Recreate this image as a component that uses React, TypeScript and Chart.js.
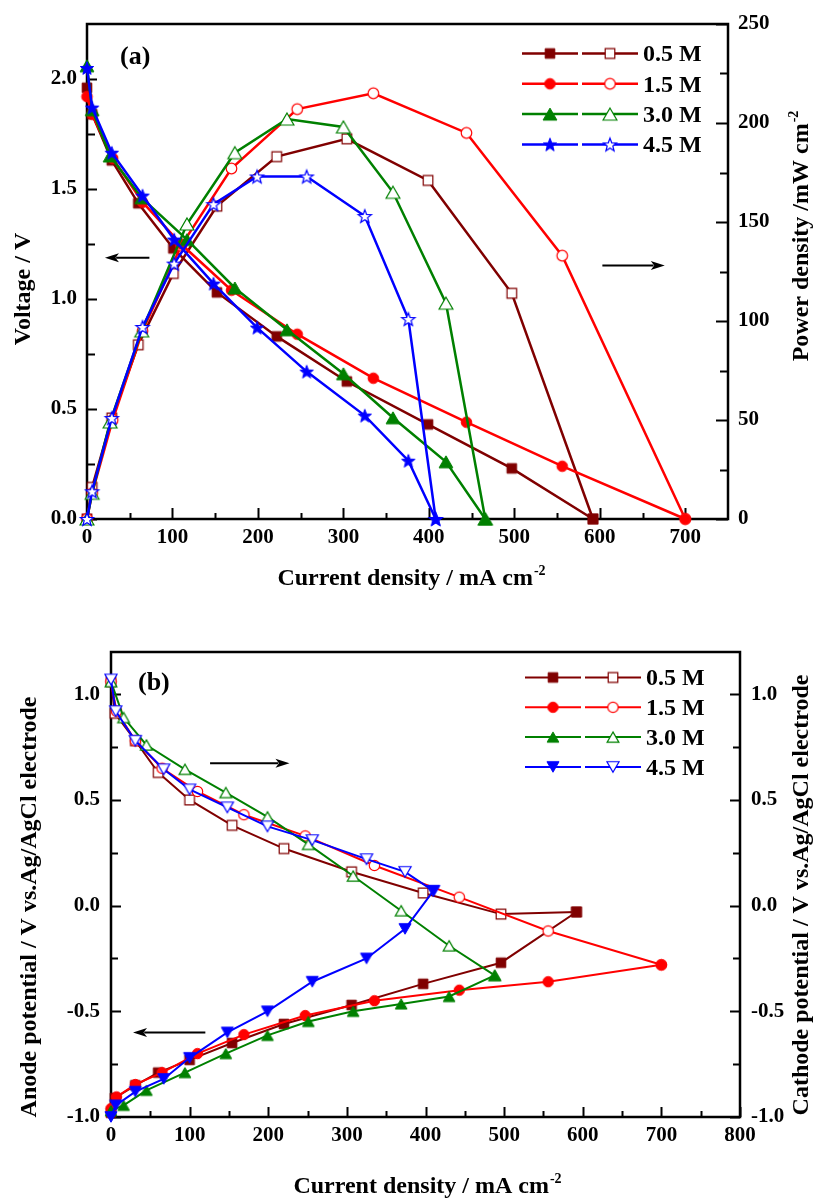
import React, { useEffect, useRef } from 'react';
import { Chart, registerables } from 'chart.js';

Chart.register(...registerables);

// ---------------- data ----------------
const SERIES_LABELS = ['0.5 M', '1.5 M', '3.0 M', '4.5 M'];

// Panel (a): current density (mA cm-2), voltage (V), power density (mW cm-2)
const A_CURRENT_05 = [0, 6, 29, 60, 101, 152, 222, 304, 399, 497, 592];
const A_VOLTAGE_05 = [1.96, 1.84, 1.63, 1.435, 1.23, 1.03, 0.83, 0.625, 0.43, 0.23, 0.0];
const A_POWER_05 = [0, 16, 51, 88, 124, 158, 183, 192, 171, 114, 0];

const A_CURRENT_15 = [0, 6, 30, 65, 110, 169, 246, 335, 444, 556, 700];
const A_VOLTAGE_15 = [1.92, 1.84, 1.64, 1.44, 1.25, 1.04, 0.84, 0.64, 0.44, 0.24, 0.0];
const A_POWER_15 = [0, 13, 50, 95, 138, 177, 207, 215, 195, 133, 0];

const A_CURRENT_30 = [0, 6, 27, 64, 117, 173, 234, 300, 358, 420, 466];
const A_VOLTAGE_30 = [2.06, 1.86, 1.65, 1.46, 1.27, 1.05, 0.86, 0.66, 0.46, 0.26, 0.0];
const A_POWER_30 = [0, 13, 49, 95, 149, 185, 202, 198, 165, 109, 0];

const A_CURRENT_45 = [0, 6, 29, 65, 102, 148, 199, 257, 325, 376, 408];
const A_VOLTAGE_45 = [2.05, 1.87, 1.665, 1.47, 1.27, 1.07, 0.87, 0.67, 0.47, 0.265, 0.0];
const A_POWER_45 = [0, 14, 51, 97, 129, 159, 173, 173, 153, 101, 0];

// Panel (b): current density, anode potential, cathode potential (V vs. Ag/AgCl)
const B_CURRENT_05 = [0, 5, 31, 60, 100, 154, 220, 306, 397, 496, 592];
const B_ANODE_05 = [-0.98, -0.91, -0.85, -0.79, -0.73, -0.65, -0.56, -0.47, -0.37, -0.27, -0.03];
const B_CATHODE_05 = [1.06, 0.91, 0.78, 0.63, 0.5, 0.38, 0.27, 0.16, 0.06, -0.04, -0.03];

const B_CURRENT_15 = [0, 7, 31, 65, 110, 169, 247, 335, 443, 556, 700];
const B_ANODE_15 = [-0.96, -0.905, -0.846, -0.79, -0.7, -0.61, -0.52, -0.45, -0.4, -0.36, -0.28];
const B_CATHODE_15 = [1.06, 0.92, 0.78, 0.65, 0.54, 0.43, 0.33, 0.19, 0.04, -0.12, -0.28];

const B_CURRENT_30 = [0, 16, 45, 94, 146, 199, 251, 308, 369, 430, 488];
const B_ANODE_30 = [-0.97, -0.945, -0.874, -0.79, -0.7, -0.614, -0.548, -0.5, -0.465, -0.43, -0.33];
const B_CATHODE_30 = [1.06, 0.89, 0.76, 0.645, 0.535, 0.42, 0.29, 0.14, -0.024, -0.19, -0.33];

const B_CURRENT_45 = [0, 6, 31, 67, 100, 148, 199, 256, 325, 374, 410];
const B_ANODE_45 = [-1.0, -0.945, -0.88, -0.82, -0.72, -0.6, -0.5, -0.36, -0.25, -0.11, 0.07];
const B_CATHODE_45 = [1.07, 0.92, 0.78, 0.645, 0.55, 0.465, 0.375, 0.31, 0.22, 0.16, 0.07];

// axes
const A_CURRENT_RANGE = [0, 750];
const A_VOLTAGE_RANGE = [0, 2.25];
const A_POWER_RANGE = [0, 250];
const A_CURRENT_TICKS = [0, 100, 200, 300, 400, 500, 600, 700];
const A_VOLTAGE_TICKS = [0.0, 0.5, 1.0, 1.5, 2.0];
const A_POWER_TICKS = [0, 50, 100, 150, 200, 250];

const B_CURRENT_RANGE = [0, 800];
const B_POTENTIAL_RANGE = [-1.0, 1.2];
const B_CURRENT_TICKS = [0, 100, 200, 300, 400, 500, 600, 700, 800];
const B_POTENTIAL_TICKS = [-1.0, -0.5, 0.0, 0.5, 1.0];

// arrows (data coordinates: [current, value])
const A_ARROW_VOLTAGE = { from: [73, 1.188], to: [21, 1.188] };
const A_ARROW_POWER = { from: [603, 128], to: [676, 128] };
const B_ARROW_ANODE = { from: [120, -0.6], to: [28, -0.6] };
const B_ARROW_CATHODE = { from: [126, 0.674], to: [227, 0.674] };

// ---------------- styles ----------------
const COLORS = ['#800000', '#ff0000', '#008000', '#0000ff'];
const A_SHAPES: Shape[] = ['square', 'circle', 'triUp', 'star'];
const B_SHAPES: Shape[] = ['square', 'circle', 'triUp', 'triDown'];
const FONT = '"Liberation Serif", "Times New Roman", Times, serif';

type Shape = 'square' | 'circle' | 'triUp' | 'triDown' | 'star';
const SIZE_A: Record<string, number> = { square: 4.8, circle: 5.3, triUp: 8, star: 7 };
const SIZE_B: Record<string, number> = { square: 4.8, circle: 5.2, triUp: 6.8, triDown: 7 };

function tracePath(ctx: CanvasRenderingContext2D, shape: Shape, cx: number, cy: number, s: number) {
  ctx.beginPath();
  if (shape === 'square') {
    ctx.rect(cx - s, cy - s, 2 * s, 2 * s);
  } else if (shape === 'circle') {
    ctx.arc(cx, cy, s, 0, Math.PI * 2);
  } else if (shape === 'triUp' || shape === 'triDown') {
    const d = shape === 'triUp' ? 1 : -1;
    ctx.moveTo(cx, cy - d * s);
    ctx.lineTo(cx + 0.866 * s, cy + d * 0.5 * s);
    ctx.lineTo(cx - 0.866 * s, cy + d * 0.5 * s);
    ctx.closePath();
  } else {
    for (let k = 0; k < 10; k++) {
      const r = k % 2 === 0 ? s : s * 0.42;
      const ang = -Math.PI / 2 + (k * Math.PI) / 5;
      const px = cx + r * Math.cos(ang);
      const py = cy + r * Math.sin(ang);
      if (k === 0) ctx.moveTo(px, py);
      else ctx.lineTo(px, py);
    }
    ctx.closePath();
  }
}

function makeMarker(shape: Shape, color: string, filled: boolean, s: number): HTMLCanvasElement {
  const size = Math.ceil(s * 2 + 6);
  const c = document.createElement('canvas');
  c.width = size;
  c.height = size;
  const ctx = c.getContext('2d')!;
  const off = shape === 'triUp' ? s * 0.25 : shape === 'triDown' ? -s * 0.25 : shape === 'star' ? s * 0.1 : 0;
  tracePath(ctx, shape, size / 2, size / 2 + off, s);
  ctx.fillStyle = filled ? color : '#ffffff';
  ctx.fill();
  ctx.lineWidth = filled ? 1 : 1.2;
  ctx.strokeStyle = color;
  ctx.stroke();
  return c;
}

function midpoints(arr: number[]) {
  const out: number[] = [];
  for (let i = 0; i < arr.length - 1; i++) out.push((arr[i] + arr[i + 1]) / 2);
  return out;
}

type TickSpec = { id: string; side: 'bottom' | 'left' | 'right'; majors: number[]; major: number; minor: number };

function drawFrame(chart: any, specs: TickSpec[]) {
  const { ctx, chartArea: a } = chart;
  ctx.save();
  ctx.strokeStyle = '#000';
  ctx.lineWidth = 2;
  ctx.beginPath();
  specs.forEach((sp) => {
    const sc = chart.scales[sp.id];
    const items: [number, number][] = [
      ...sp.majors.map((v) => [v, sp.major] as [number, number]),
      ...midpoints(sp.majors).map((v) => [v, sp.minor] as [number, number]),
    ];
    items.forEach(([v, len]) => {
      const p = Math.round(sc.getPixelForValue(v)) + 0.5;
      if (sp.side === 'bottom') {
        ctx.moveTo(p, a.bottom);
        ctx.lineTo(p, a.bottom - len);
      } else if (sp.side === 'left') {
        ctx.moveTo(a.left, p);
        ctx.lineTo(a.left + len, p);
      } else {
        ctx.moveTo(a.right, p);
        ctx.lineTo(a.right - len, p);
      }
    });
  });
  ctx.stroke();
  ctx.lineWidth = 2.5;
  ctx.strokeRect(a.left, a.top, a.right - a.left, a.bottom - a.top);
  ctx.restore();
}

function drawArrow(chart: any, yId: string, arrow: { from: number[]; to: number[] }) {
  const { ctx } = chart;
  const sx = chart.scales.x;
  const sy = chart.scales[yId];
  const x1 = sx.getPixelForValue(arrow.from[0]);
  const y1 = sy.getPixelForValue(arrow.from[1]);
  const x2 = sx.getPixelForValue(arrow.to[0]);
  const y2 = sy.getPixelForValue(arrow.to[1]);
  const ang = Math.atan2(y2 - y1, x2 - x1);
  const hl = 14;
  const hw = 4.5;
  ctx.save();
  ctx.strokeStyle = '#000';
  ctx.fillStyle = '#000';
  ctx.lineWidth = 2;
  ctx.beginPath();
  ctx.moveTo(x1, y1);
  ctx.lineTo(x2 - Math.cos(ang) * hl * 0.8, y2 - Math.sin(ang) * hl * 0.8);
  ctx.stroke();
  ctx.beginPath();
  ctx.moveTo(x2, y2);
  ctx.lineTo(x2 - Math.cos(ang) * hl - Math.sin(ang) * hw, y2 - Math.sin(ang) * hl + Math.cos(ang) * hw);
  ctx.lineTo(x2 - Math.cos(ang) * hl * 0.75, y2 - Math.sin(ang) * hl * 0.75);
  ctx.lineTo(x2 - Math.cos(ang) * hl + Math.sin(ang) * hw, y2 - Math.sin(ang) * hl - Math.cos(ang) * hw);
  ctx.closePath();
  ctx.fill();
  ctx.restore();
}

// draws text (+ optional superscript); rotated texts read bottom-to-top
function drawTitle(
  ctx: CanvasRenderingContext2D,
  main: string,
  sup: string,
  x: number,
  y: number,
  rotated: boolean,
  size = 24
) {
  ctx.save();
  ctx.fillStyle = '#000';
  ctx.textBaseline = 'alphabetic';
  ctx.textAlign = 'left';
  ctx.font = `bold ${size}px ${FONT}`;
  const wMain = ctx.measureText(main).width;
  ctx.font = `bold ${Math.round(size * 0.6)}px ${FONT}`;
  const wSup = sup ? ctx.measureText(sup).width + 1 : 0;
  const total = wMain + wSup;
  ctx.translate(x, y);
  if (rotated) ctx.rotate(-Math.PI / 2);
  ctx.font = `bold ${size}px ${FONT}`;
  ctx.fillText(main, -total / 2, 0);
  if (sup) {
    ctx.font = `bold ${Math.round(size * 0.6)}px ${FONT}`;
    ctx.fillText(sup, -total / 2 + wMain + 1, -size * 0.42);
  }
  ctx.restore();
}

function drawLegend(
  chart: any,
  markersFilled: HTMLCanvasElement[],
  markersOpen: HTMLCanvasElement[],
  x0: number,
  y0: number,
  dy: number,
  lw: number
) {
  const { ctx } = chart;
  ctx.save();
  SERIES_LABELS.forEach((label, i) => {
    const y = y0 + i * dy;
    ctx.strokeStyle = COLORS[i];
    ctx.lineWidth = lw;
    ctx.beginPath();
    ctx.moveTo(x0, y);
    ctx.lineTo(x0 + 56, y);
    ctx.moveTo(x0 + 60, y);
    ctx.lineTo(x0 + 116, y);
    ctx.stroke();
    const mf = markersFilled[i];
    const mo = markersOpen[i];
    ctx.drawImage(mf, x0 + 28 - mf.width / 2, y - mf.height / 2);
    ctx.drawImage(mo, x0 + 88 - mo.width / 2, y - mo.height / 2);
    ctx.fillStyle = '#000';
    ctx.font = `bold 24px ${FONT}`;
    ctx.textAlign = 'left';
    ctx.textBaseline = 'alphabetic';
    ctx.fillText(label, x0 + 121, y + 7.8);
  });
  ctx.restore();
}

const tickFont = { family: FONT, size: 21, weight: 'bold' as const };

function axisBase(range: number[], ticks: number[], fmt: (v: number) => string, padding: number, fit: (s: any) => void, position: string) {
  return {
    type: 'linear' as const,
    position,
    min: range[0],
    max: range[1],
    afterBuildTicks: (s: any) => {
      s.ticks = ticks.map((v) => ({ value: v }));
    },
    afterFit: fit,
    grid: { display: false, drawTicks: false },
    border: { display: false },
    ticks: {
      font: tickFont,
      color: '#000',
      padding,
      autoSkip: false,
      maxRotation: 0,
      callback: (v: any) => fmt(Number(v)),
    },
  };
}

function configA(): any {
  const series = [
    { x: A_CURRENT_05, v: A_VOLTAGE_05, p: A_POWER_05 },
    { x: A_CURRENT_15, v: A_VOLTAGE_15, p: A_POWER_15 },
    { x: A_CURRENT_30, v: A_VOLTAGE_30, p: A_POWER_30 },
    { x: A_CURRENT_45, v: A_VOLTAGE_45, p: A_POWER_45 },
  ];
  const filled = A_SHAPES.map((sh, i) => makeMarker(sh, COLORS[i], true, SIZE_A[sh]));
  const open = A_SHAPES.map((sh, i) => makeMarker(sh, COLORS[i], false, SIZE_A[sh]));
  const datasets: any[] = [];
  series.forEach((s, i) => {
    const common = {
      borderColor: COLORS[i],
      backgroundColor: COLORS[i],
      borderWidth: 2.5,
      pointRadius: 6,
      showLine: true,
      clip: false,
      order: 3 - i,
    };
    datasets.push({ ...common, label: SERIES_LABELS[i] + ' voltage', yAxisID: 'yV', pointStyle: filled[i], data: s.x.map((x, j) => ({ x, y: s.v[j] })) });
    datasets.push({ ...common, label: SERIES_LABELS[i] + ' power', yAxisID: 'yP', pointStyle: open[i], data: s.x.map((x, j) => ({ x, y: s.p[j] })) });
  });
  const decor = {
    id: 'decorA',
    beforeDatasetsDraw(chart: any) {
      drawFrame(chart, [
        { id: 'x', side: 'bottom', majors: A_CURRENT_TICKS, major: 11, minor: 6 },
        { id: 'yV', side: 'left', majors: A_VOLTAGE_TICKS, major: 10, minor: 8 },
        { id: 'yP', side: 'right', majors: A_POWER_TICKS, major: 12, minor: 8 },
      ]);
    },
    afterDraw(chart: any) {
      const { ctx, chartArea: a } = chart;
      drawArrow(chart, 'yV', A_ARROW_VOLTAGE);
      drawArrow(chart, 'yP', A_ARROW_POWER);
      ctx.save();
      ctx.fillStyle = '#000';
      ctx.font = `bold 26px ${FONT}`;
      ctx.textAlign = 'left';
      ctx.fillText('(a)', a.left + 33, a.top + 40);
      ctx.restore();
      drawLegend(chart, filled, open, a.left + 435, a.top + 29.5, 30.3, 2.5);
      drawTitle(ctx, 'Current density / mA cm', '-2', (a.left + a.right) / 2 + 4, 585, false);
      drawTitle(ctx, 'Voltage / V', '', 30, 289, true);
      drawTitle(ctx, 'Power density /mW cm', '-2', 808, 236, true);
    },
  };
  return {
    type: 'scatter',
    data: { datasets },
    plugins: [decor],
    options: {
      responsive: false,
      animation: false,
      devicePixelRatio: 1,
      events: [],
      layout: { padding: { top: 24, left: 0, right: 0, bottom: 0 } },
      plugins: { legend: { display: false }, tooltip: { enabled: false } },
      scales: {
        x: axisBase(A_CURRENT_RANGE, A_CURRENT_TICKS, (v) => String(v), 6, (s) => { s.height = 81; }, 'bottom'),
        yV: axisBase(A_VOLTAGE_RANGE, A_VOLTAGE_TICKS, (v) => v.toFixed(1), 10, (s) => { s.width = 87; }, 'left'),
        yP: axisBase(A_POWER_RANGE, A_POWER_TICKS, (v) => String(v), 10, (s) => { s.width = 87; }, 'right'),
      },
    },
  };
}

function configB(): any {
  const series = [
    { x: B_CURRENT_05, an: B_ANODE_05, ca: B_CATHODE_05 },
    { x: B_CURRENT_15, an: B_ANODE_15, ca: B_CATHODE_15 },
    { x: B_CURRENT_30, an: B_ANODE_30, ca: B_CATHODE_30 },
    { x: B_CURRENT_45, an: B_ANODE_45, ca: B_CATHODE_45 },
  ];
  const filled = B_SHAPES.map((sh, i) => makeMarker(sh, COLORS[i], true, SIZE_B[sh]));
  const open = B_SHAPES.map((sh, i) => makeMarker(sh, COLORS[i], false, SIZE_B[sh]));
  const datasets: any[] = [];
  series.forEach((s, i) => {
    const common = {
      borderColor: COLORS[i],
      backgroundColor: COLORS[i],
      borderWidth: 2,
      pointRadius: 6,
      showLine: true,
      clip: false,
      order: 3 - i,
    };
    datasets.push({ ...common, label: SERIES_LABELS[i] + ' anode', yAxisID: 'yA', pointStyle: filled[i], data: s.x.map((x, j) => ({ x, y: s.an[j] })) });
    datasets.push({ ...common, label: SERIES_LABELS[i] + ' cathode', yAxisID: 'yC', pointStyle: open[i], data: s.x.map((x, j) => ({ x, y: s.ca[j] })) });
  });
  const decor = {
    id: 'decorB',
    beforeDatasetsDraw(chart: any) {
      drawFrame(chart, [
        { id: 'x', side: 'bottom', majors: B_CURRENT_TICKS, major: 10, minor: 6 },
        { id: 'yA', side: 'left', majors: B_POTENTIAL_TICKS, major: 10, minor: 7 },
        { id: 'yC', side: 'right', majors: B_POTENTIAL_TICKS, major: 10, minor: 7 },
      ]);
    },
    afterDraw(chart: any) {
      const { ctx, chartArea: a } = chart;
      drawArrow(chart, 'yA', B_ARROW_ANODE);
      drawArrow(chart, 'yC', B_ARROW_CATHODE);
      ctx.save();
      ctx.fillStyle = '#000';
      ctx.font = `bold 26px ${FONT}`;
      ctx.textAlign = 'left';
      ctx.fillText('(b)', a.left + 27, a.top + 38);
      ctx.restore();
      drawLegend(chart, filled, open, a.left + 414, a.top + 25.5, 29.8, 2);
      drawTitle(ctx, 'Current density / mA cm', '-2', (a.left + a.right) / 2 + 2, 593, false);
      drawTitle(ctx, 'Anode potential / V vs.Ag/AgCl electrode', '', 36, 307, true);
      drawTitle(ctx, 'Cathode potential / V vs.Ag/AgCl electrode', '', 808, 295, true);
    },
  };
  return {
    type: 'scatter',
    data: { datasets },
    plugins: [decor],
    options: {
      responsive: false,
      animation: false,
      devicePixelRatio: 1,
      events: [],
      layout: { padding: { top: 52, left: 0, right: 0, bottom: 0 } },
      plugins: { legend: { display: false }, tooltip: { enabled: false } },
      scales: {
        x: axisBase(B_CURRENT_RANGE, B_CURRENT_TICKS, (v) => String(v), 6, (s) => { s.height = 81; }, 'bottom'),
        yA: axisBase(B_POTENTIAL_RANGE, B_POTENTIAL_TICKS, (v) => v.toFixed(1), 11, (s) => { s.width = 111; }, 'left'),
        yC: axisBase(B_POTENTIAL_RANGE, B_POTENTIAL_TICKS, (v) => v.toFixed(1), 11, (s) => { s.width = 75; }, 'right'),
      },
    },
  };
}

export default function App() {
  const refA = useRef<HTMLCanvasElement>(null);
  const refB = useRef<HTMLCanvasElement>(null);
  useEffect(() => {
    const ca = new Chart(refA.current!, configA());
    const cb = new Chart(refB.current!, configB());
    return () => {
      ca.destroy();
      cb.destroy();
    };
  }, []);
  return (
    <div style={{ position: 'absolute', left: 0, top: 0, width: 815, height: 1198, background: '#fff' }}>
      <canvas ref={refA} width={815} height={600} style={{ display: 'block', width: 815, height: 600 }} />
      <canvas ref={refB} width={815} height={598} style={{ display: 'block', width: 815, height: 598 }} />
    </div>
  );
}
